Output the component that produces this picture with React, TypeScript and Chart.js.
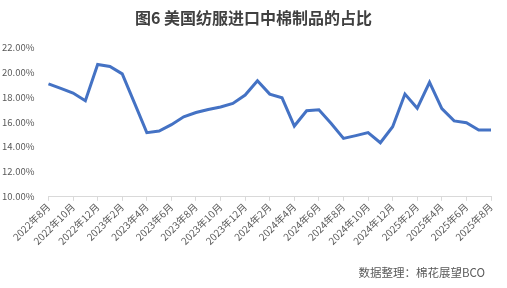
import React, { useEffect, useRef } from "react";
import { Chart, registerables } from "chart.js";

Chart.register(...registerables);

const months: string[] = [
  "2022年8月", "2022年9月", "2022年10月", "2022年11月", "2022年12月",
  "2023年1月", "2023年2月", "2023年3月", "2023年4月", "2023年5月", "2023年6月",
  "2023年7月", "2023年8月", "2023年9月", "2023年10月", "2023年11月", "2023年12月",
  "2024年1月", "2024年2月", "2024年3月", "2024年4月", "2024年5月", "2024年6月",
  "2024年7月", "2024年8月", "2024年9月", "2024年10月", "2024年11月", "2024年12月",
  "2025年1月", "2025年2月", "2025年3月", "2025年4月", "2025年5月", "2025年6月",
  "2025年7月", "2025年8月",
];

const cottonShare: number[] = [
  19.04, 18.68, 18.31, 17.69, 20.6, 20.44, 19.85, 17.5, 15.14, 15.27, 15.78,
  16.41, 16.75, 17.0, 17.2, 17.48, 18.15, 19.3, 18.23, 17.93, 15.67, 16.89,
  16.97, 15.87, 14.68, 14.9, 15.14, 14.33, 15.62, 18.23, 17.1, 19.17, 17.07,
  16.08, 15.94, 15.35, 15.35,
];

const yTicks: number[] = [10, 12, 14, 16, 18, 20, 22];

const titleText = "图6 美国纺服进口中棉制品的占比";
const sourceText = "数据整理：棉花展望BCO";

const FONT = "'Noto Sans CJK SC', 'Microsoft YaHei', sans-serif";

export default function App() {
  const ref = useRef<HTMLCanvasElement | null>(null);

  useEffect(() => {
    document.body.style.margin = "0";
    const canvas = ref.current;
    if (!canvas) return;
    const chart = new Chart(canvas, {
      type: "line",
      data: {
        labels: months,
        datasets: [
          {
            label: "占比",
            data: cottonShare,
            borderColor: "#4472C4",
            backgroundColor: "#4472C4",
            borderWidth: 3,
            pointRadius: 0,
            tension: 0,
          },
        ],
      },
      options: {
        animation: false,
        responsive: false,
        maintainAspectRatio: false,
        layout: { padding: { left: -4, right: 16, top: 47, bottom: 41 } },
        plugins: {
          legend: { display: false },
          tooltip: { enabled: false },
          title: { display: false },
        },
        scales: {
          x: {
            offset: false,
            grid: {
              display: true,
              drawOnChartArea: false,
              drawTicks: true,
              tickLength: 4,
              color: (ctx: any) => (ctx.index % 2 === 0 ? "#d9d9d9" : "rgba(0,0,0,0)"),
            },
            border: { display: true, color: "#d9d9d9", width: 1 },
            ticks: {
              autoSkip: false,
              maxRotation: 45,
              minRotation: 45,
              color: "#595959",
              font: { family: FONT, size: 10 },
              padding: 0,
              callback: (_v: any, i: number) => (i % 2 === 0 ? months[i] : ""),
            },
          },
          y: {
            min: 10,
            max: 22,
            afterBuildTicks: (axis: any) => {
              axis.ticks = yTicks.map((v) => ({ value: v }));
            },
            grid: { display: false },
            border: { display: false },
            ticks: {
              color: "#595959",
              font: { family: FONT, size: 9.5 },
              padding: 6,
              callback: (v: any) => Number(v).toFixed(2) + "%",
            },
          },
        },
      },
    });
    return () => chart.destroy();
  }, []);

  return (
    <div style={{ position: "relative", width: 507, height: 288, background: "#fff", overflow: "hidden" }}>
      <canvas ref={ref} width={507} height={288} style={{ display: "block", width: 507, height: 288 }} />
      <div
        style={{
          position: "absolute",
          left: 0,
          top: 6,
          width: 507,
          height: 22,
          lineHeight: "22px",
          textAlign: "center",
          fontFamily: FONT,
          fontWeight: "bold",
          fontSize: 16,
          color: "#404040",
          whiteSpace: "nowrap",
        }}
      >
        {titleText}
      </div>
      <div
        style={{
          position: "absolute",
          right: 22,
          top: 264,
          height: 16,
          lineHeight: "16px",
          fontFamily: FONT,
          fontSize: 11.5,
          color: "#595959",
          whiteSpace: "nowrap",
        }}
      >
        {sourceText}
      </div>
    </div>
  );
}
